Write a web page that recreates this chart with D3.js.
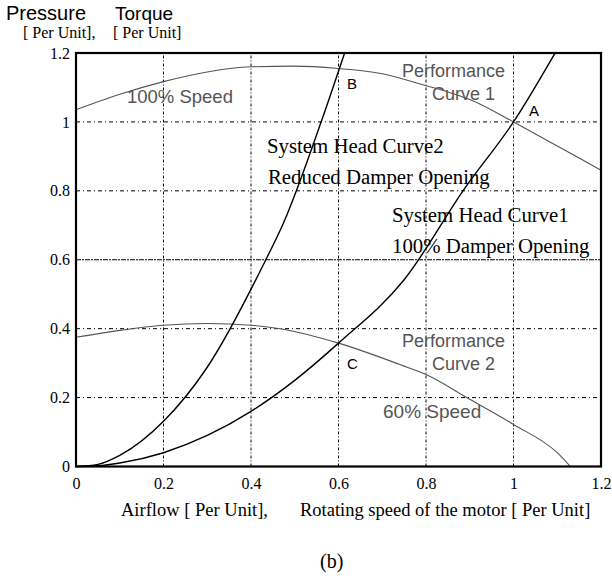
<!DOCTYPE html>
<html>
<head>
<meta charset="utf-8">
<script src="https://cdn.jsdelivr.net/npm/d3@7"></script>
<style>
  body { margin: 0; background: #fff; }
  svg { display: block; }
  .serif { font-family: "Liberation Serif", "Times New Roman", serif; }
  .sans { font-family: "Liberation Sans", Arial, sans-serif; }
</style>
</head>
<body>
<svg id="chart" width="612" height="576"></svg>
<script>
// values (per unit)
var xTicks = [0, 0.2, 0.4, 0.6, 0.8, 1, 1.2];
var yTicks = [0, 0.2, 0.4, 0.6, 0.8, 1, 1.2];

var perf1X = [0, 0.1, 0.2, 0.3, 0.4, 0.5, 0.6, 0.7, 0.8, 0.85, 0.9, 1.0, 1.1, 1.2];
var perf1Y = [1.035, 1.08, 1.117, 1.145, 1.16, 1.162, 1.155, 1.14, 1.105, 1.087, 1.065, 1.0, 0.93, 0.86];

var perf2X = [0, 0.1, 0.2, 0.3, 0.4, 0.47, 0.6, 0.74, 0.8, 0.9, 1.0, 1.1, 1.13];
var perf2Y = [0.375, 0.395, 0.41, 0.415, 0.41, 0.399, 0.358, 0.296, 0.267, 0.195, 0.122, 0.04, 0];

var head1X = [0, 0.05, 0.1, 0.2, 0.3, 0.4, 0.5, 0.6, 0.75, 0.89, 1.0, 1.095];
var head1Y = [0, 0.002, 0.01, 0.04, 0.09, 0.16, 0.25, 0.358, 0.542, 0.81, 1.0, 1.2];

var head2X = [0, 0.05, 0.1, 0.2, 0.3, 0.43, 0.474, 0.562, 0.614];
var head2Y = [0, 0.006, 0.032, 0.131, 0.288, 0.59, 0.706, 1.006, 1.2];

var margins = {left: 76, top: 53, right: 11, bottom: 109};
var width = 612, height = 576;

var svg = d3.select('#chart');

var xScale = d3.scaleLinear().domain([0, 1.2]).range([margins.left, width - margins.right]);
var yScale = d3.scaleLinear().domain([0, 1.2]).range([height - margins.bottom - 0.5, margins.top]);

var zip = function(xs, ys) { return xs.map(function(x, i) { return [x, ys[i]]; }); };

// grid
var grid = svg.append('g').attr('class', 'grid');
grid.selectAll('line.vx').data(xTicks.slice(1, -1)).enter().append('line')
  .attr('x1', function(d) { return xScale(d); })
  .attr('x2', function(d) { return xScale(d); })
  .attr('y1', yScale(0)).attr('y2', yScale(1.2))
  .attr('stroke', '#000').attr('stroke-width', 1)
  .attr('stroke-dasharray', '3,2,1,2');
grid.selectAll('line.hy').data(yTicks.slice(1, -1)).enter().append('line')
  .attr('y1', function(d) { return yScale(d); })
  .attr('y2', function(d) { return yScale(d); })
  .attr('x1', xScale(0)).attr('x2', xScale(1.2))
  .attr('stroke', '#000').attr('stroke-width', 1)
  .attr('stroke-dasharray', function(d) { return d === 0.6 ? '5,1,2,1' : '4,3,1,3'; });

// curves
var line = d3.line()
  .x(function(d) { return xScale(d[0]); })
  .y(function(d) { return yScale(d[1]); })
  .curve(d3.curveMonotoneX);

var curves = [
  {pts: zip(perf1X, perf1Y), color: '#555', w: 1.1},
  {pts: zip(perf2X, perf2Y), color: '#555', w: 1.1},
  {pts: zip(head1X, head1Y), color: '#000', w: 1.4},
  {pts: zip(head2X, head2Y), color: '#000', w: 1.4}
];
svg.append('g').selectAll('path').data(curves).enter().append('path')
  .attr('d', function(d) { return line(d.pts); })
  .attr('fill', 'none')
  .attr('stroke', function(d) { return d.color; })
  .attr('stroke-width', function(d) { return d.w; });

// frame
svg.append('rect')
  .attr('x', xScale(0)).attr('y', yScale(1.2))
  .attr('width', xScale(1.2) - xScale(0))
  .attr('height', yScale(0) - yScale(1.2))
  .attr('fill', 'none').attr('stroke', '#000').attr('stroke-width', 2.2);

// axes (labels only)
var xAxis = svg.append('g')
  .attr('transform', 'translate(0,' + yScale(0) + ')')
  .call(d3.axisBottom(xScale).tickValues(xTicks).tickSize(0).tickPadding(11)
    .tickFormat(function(d) { return d3.format('~g')(d); }));
var yAxis = svg.append('g')
  .attr('transform', 'translate(' + xScale(0) + ',0)')
  .call(d3.axisLeft(yScale).tickValues(yTicks).tickSize(0).tickPadding(6)
    .tickFormat(function(d) { return d3.format('~g')(d); }));
[xAxis, yAxis].forEach(function(a) {
  a.select('.domain').remove();
  a.selectAll('text')
    .attr('font-family', '"Liberation Serif", "Times New Roman", serif')
    .attr('font-size', 16).attr('fill', '#000');
});

// texts
var labels = [
  {t: 'Pressure', x: 6, y: 20, cls: 'sans', size: 20, fill: '#000'},
  {t: 'Torque', x: 115, y: 20, cls: 'sans', size: 19, fill: '#000'},
  {t: '[ Per Unit],', x: 23, y: 38, cls: 'serif', size: 16, fill: '#000'},
  {t: '[ Per Unit]', x: 113, y: 38, cls: 'serif', size: 16, fill: '#000'},
  {t: '100% Speed', x: 127, y: 103, cls: 'sans', size: 18.5, fill: '#555'},
  {t: 'Performance', x: 402, y: 77, cls: 'sans', size: 18, fill: '#555'},
  {t: 'Curve  1', x: 432, y: 100, cls: 'sans', size: 18, fill: '#555'},
  {t: 'A', x: 529, y: 116, cls: 'sans', size: 15, fill: '#000'},
  {t: 'B', x: 347, y: 89, cls: 'sans', size: 15, fill: '#000'},
  {t: 'C', x: 347, y: 369, cls: 'sans', size: 15, fill: '#000'},
  {t: 'System Head Curve2', x: 267, y: 153, cls: 'serif', size: 20.8, fill: '#000'},
  {t: 'Reduced Damper Opening', x: 268, y: 184, cls: 'serif', size: 20.8, fill: '#000'},
  {t: 'System Head Curve1', x: 392, y: 222, cls: 'serif', size: 20.8, fill: '#000'},
  {t: '100% Damper Opening', x: 392, y: 253, cls: 'serif', size: 20.8, fill: '#000'},
  {t: 'Performance', x: 402, y: 347, cls: 'sans', size: 18, fill: '#555'},
  {t: 'Curve  2', x: 432, y: 370, cls: 'sans', size: 18, fill: '#555'},
  {t: '60% Speed', x: 383, y: 418, cls: 'sans', size: 19, fill: '#555'},
  {t: 'Airflow [ Per Unit],', x: 121, y: 516, cls: 'serif', size: 18.5, fill: '#000'},
  {t: 'Rotating speed of the motor [ Per Unit]', x: 300, y: 516, cls: 'serif', size: 18.5, fill: '#000'},
  {t: '(b)', x: 320, y: 568, cls: 'serif', size: 20, fill: '#000'}
];
svg.append('g').selectAll('text').data(labels).enter().append('text')
  .attr('class', function(d) { return d.cls; })
  .attr('x', function(d) { return d.x; })
  .attr('y', function(d) { return d.y; })
  .attr('font-size', function(d) { return d.size; })
  .attr('fill', function(d) { return d.fill; })
  .text(function(d) { return d.t; });
</script>
</body>
</html>
